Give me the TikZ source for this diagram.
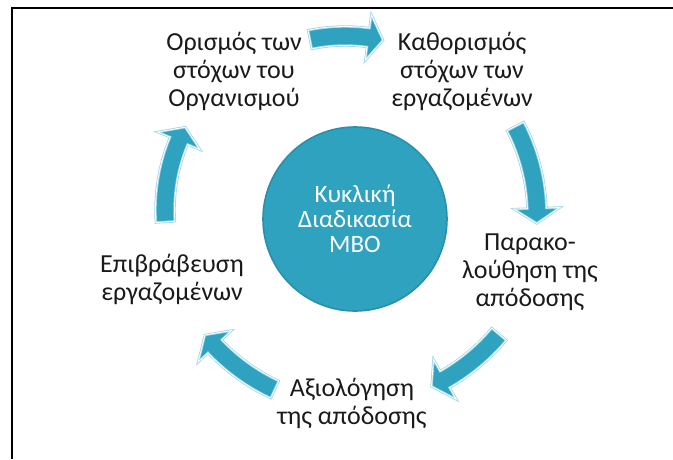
\documentclass[tikz,border=0pt]{standalone}
\usepackage{fontspec}
\setmainfont{Carlito}
\definecolor{tealfill}{HTML}{2EA2BF}
\definecolor{tealedge}{HTML}{2A8FAA}
\definecolor{rimblue}{HTML}{9FD6E6}
\definecolor{ink}{HTML}{1A1A1A}

% half widths of the arrow body and of the arrow head
\def\bw{9.5}
\def\hw{23}
% curved block arrow on a circle:
% centre x, centre y, radius, tail angle, head-base angle, tip angle
\newcommand\cyclearrow[6]{%
  \foreach \lay in {cycouter,cycinner}{%
    \path[\lay]
      plot[domain=#4:#5,samples=30] ({#1+(#3+\bw)*cos(\x)},{#2+(#3+\bw)*sin(\x)})
      -- ({#1+(#3+\hw)*cos(#5)},{#2+(#3+\hw)*sin(#5)})
      -- ({#1+#3*cos(#6)},{#2+#3*sin(#6)})
      -- ({#1+(#3-\hw)*cos(#5)},{#2+(#3-\hw)*sin(#5)})
      -- plot[domain=#5:#4,samples=30] ({#1+(#3-\bw)*cos(\x)},{#2+(#3-\bw)*sin(\x)})
      -- cycle;}%
}

\begin{document}
\begin{tikzpicture}[x=1pt,y=1pt,
  lbl/.style={align=center,text=ink,inner sep=0pt,
    font=\fontsize{26}{28}\selectfont},
  hub/.style={circle,fill=tealfill,draw=tealedge,line width=1.6pt,
    minimum size=184pt,inner sep=0pt,align=center,text=white,
    font=\fontsize{25}{25}\selectfont},
  cycouter/.style={fill=tealfill,draw=rimblue,line width=2.4pt,line join=miter},
  cycinner/.style={draw=white,line width=0.8pt,line join=miter}]

\useasboundingbox (0,0) rectangle (673,-459);

% frame lines
\draw[line width=2pt] (12,-459) -- (12,-8) -- (673,-8);

% centre circle
\node[hub] (hub) at (355,-219) {Κυκλική\\Διαδικασία\\ΜΒΟ};

% step labels
\node[lbl] (s1) at (234,-71)  {Ορισμός των\\στόχων του\\Οργανισμού};
\node[lbl] (s2) at (462,-71)  {Καθορισμός\\στόχων των\\εργαζομένων};
\node[lbl] (s3) at (530,-272) {Παρακο-\\λούθηση της\\απόδοσης};
\node[lbl] (s4) at (352,-403) {Αξιολόγηση\\της απόδοσης};
\node[lbl] (s5) at (172,-279) {Επιβράβευση\\εργαζομένων};

% curved arrows between the steps
\cyclearrow{345}{-212}{176}{101.5}{82.4}{77.5}
\cyclearrow{345}{-215}{192}{27.5}{2.0}{-2.5}
\cyclearrow{345}{-205}{201}{-40}{-60.2}{-64.5}
\cyclearrow{358}{-211}{197}{245}{223.4}{219}
\cyclearrow{345}{-210}{180}{183.8}{157.4}{152.6}
\end{tikzpicture}
\end{document}
